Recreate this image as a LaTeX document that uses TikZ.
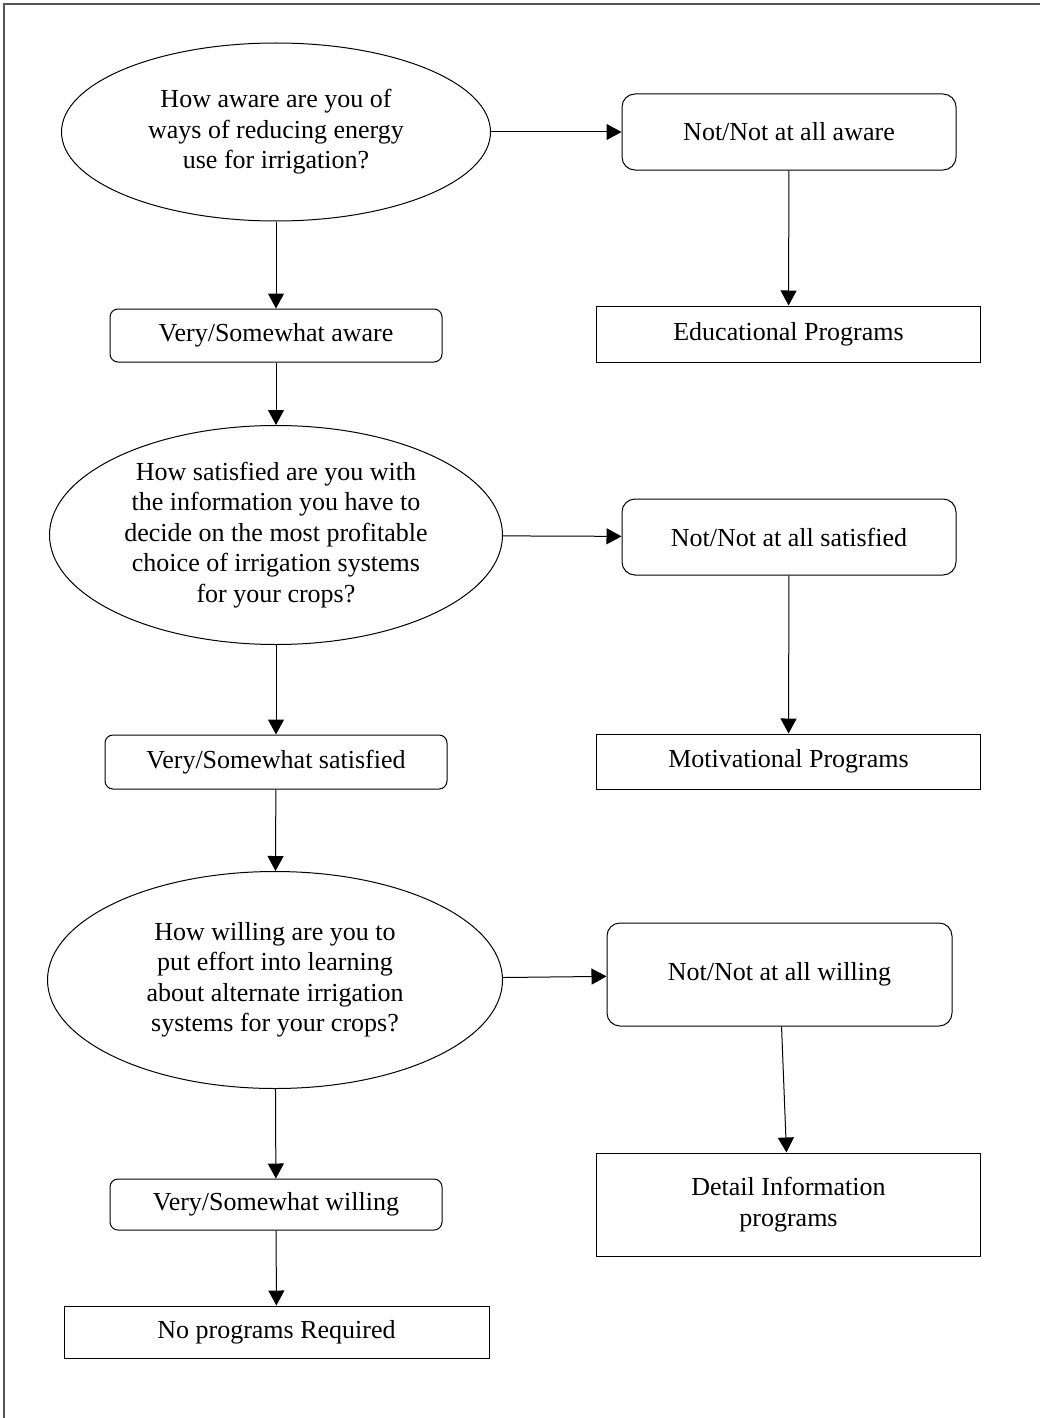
\documentclass[tikz,border=0pt]{standalone}
\usepackage{fontspec}
\setmainfont{Liberation Serif}
\usepackage{tikz}
\usetikzlibrary{arrows.meta,positioning,shapes.geometric}

\begin{document}
\begin{tikzpicture}[x=1pt,y=-1pt,
  txt/.style={inner sep=0pt,align=center,line width=1pt,font=\fontsize{26}{30.5}\selectfont},
  question/.style={txt,ellipse,draw},
  yesbox/.style={txt,draw,rounded corners=8pt},
  nobox/.style={txt,draw,rounded corners=13pt},
  progbox/.style={txt,draw},
  flow/.style={-{Triangle[width=16pt,length=15pt]},line width=1pt}]
\definecolor{framegray}{HTML}{555555}
\useasboundingbox (0,0) rectangle (1040,1418);
\draw[framegray,line width=1.5pt] (4,1418) -- (4,4) -- (1040,4);

% Questions
\node[question,minimum width=429pt,minimum height=178pt] (q1) at (276,132) {How aware are you of\\ways of reducing energy\\use for irrigation?};
\node[question,minimum width=453pt,minimum height=219pt] (q2) at (276,535) {How satisfied are you with\\the information you have to\\decide on the most profitable\\choice of irrigation systems\\for your crops?};
\node[question,minimum width=455pt,minimum height=217pt] (q3) at (275,980) {How willing are you to\\put effort into learning\\about alternate irrigation\\systems for your crops?};

% Answers
\node[yesbox,minimum width=332pt,minimum height=53pt] (v1) at (276,335.5) {Very/Somewhat aware};
\node[yesbox,minimum width=342pt,minimum height=54pt] (v2) at (276,762) {Very/Somewhat satisfied};
\node[yesbox,minimum width=332pt,minimum height=51pt] (v3) at (276,1204.5) {Very/Somewhat willing};
\node[nobox,minimum width=334pt,minimum height=76pt] (n1) at (789,132) {Not/Not at all aware};
\node[nobox,minimum width=334pt,minimum height=76pt] (n2) at (789,537) {Not/Not at all satisfied};
\node[nobox,minimum width=345pt,minimum height=103pt] (n3) at (779.5,974.5) {Not/Not at all willing};

% Programs
\node[progbox,minimum width=384pt,minimum height=56pt] (p1) at (788.5,334) {Educational Programs};
\node[progbox,minimum width=384pt,minimum height=55pt] (p2) at (788.5,761.5) {Motivational Programs};
\node[progbox,minimum width=384pt,minimum height=103pt] (p3) at (788.5,1204.5) {Detail Information\\programs};
\node[progbox,minimum width=425pt,minimum height=52pt] (none) at (276.5,1332) {No programs Required};

% Add arrows
\foreach \a/\b in {q1/n1,q1/v1,n1/p1,v1/q2,q2/n2,q2/v2,n2/p2,v2/q3,q3/n3,q3/v3,n3/p3,v3/none} {
  \draw[flow] (\a) -- (\b);
}
\end{tikzpicture}
\end{document}
